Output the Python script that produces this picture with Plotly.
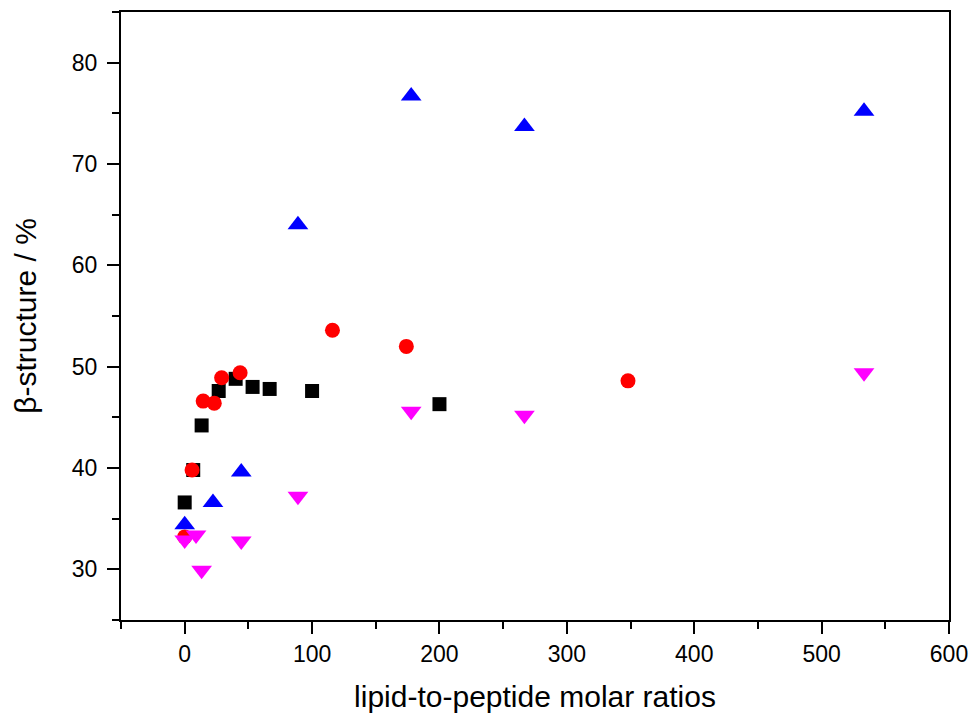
import plotly.graph_objects as go

# Lipid-to-peptide molar ratio (x) and beta-structure content in % (y)
sq_x = [0, 6.7, 13.3, 26.7, 40, 53.3, 66.7, 100, 200]
sq_y = [36.6, 39.8, 44.2, 47.6, 48.8, 48.0, 47.8, 47.6, 46.3]

ci_x = [0, 5.8, 14.5, 23.2, 29, 43.5, 116, 174, 348]
ci_y = [33.2, 39.8, 46.6, 46.4, 48.9, 49.4, 53.6, 52.0, 48.6]

up_x = [0, 22.2, 44.4, 88.9, 177.8, 266.7, 533.3]
up_y = [34.4, 36.6, 39.6, 64.0, 76.7, 73.7, 75.2]

dn_x = [0, 8.9, 13.3, 44.4, 88.9, 177.8, 266.7, 533.3]
dn_y = [32.9, 33.4, 29.9, 32.8, 37.2, 45.6, 45.2, 49.4]

fig = go.Figure()
fig.add_trace(go.Scatter(x=sq_x, y=sq_y, mode="markers",
                         marker=dict(symbol="square", size=14, color="black")))
fig.add_trace(go.Scatter(x=ci_x, y=ci_y, mode="markers",
                         marker=dict(symbol="circle", size=15, color="#FF0000")))
fig.add_trace(go.Scatter(x=up_x, y=up_y, mode="markers",
                         marker=dict(symbol="triangle-up", size=18, color="#0000FF")))
fig.add_trace(go.Scatter(x=dn_x, y=dn_y, mode="markers",
                         marker=dict(symbol="triangle-down", size=18, color="#FF00FF")))

FONT = "Liberation Sans, Arial, sans-serif"

axis_common = dict(
    showline=True, linecolor="black", linewidth=2, mirror=True,
    showgrid=False, zeroline=False,
    ticks="outside", ticklen=12, tickwidth=2, tickcolor="black",
    tickfont=dict(family=FONT, size=23, color="black"),
)

fig.update_layout(
    width=979, height=722,
    margin=dict(l=121, r=30, t=10, b=102),
    paper_bgcolor="white", plot_bgcolor="white",
    showlegend=False,
    font=dict(family=FONT, color="black"),
    xaxis=dict(
        range=[-50, 600], tick0=0, dtick=100,
        minor=dict(dtick=50, ticks="outside", ticklen=7, tickwidth=2, tickcolor="black"),
        title=dict(text="lipid-to-peptide molar ratios", font=dict(size=30), standoff=20),
        **axis_common,
    ),
    yaxis=dict(
        range=[25, 85], tick0=0, dtick=10,
        minor=dict(dtick=5, ticks="outside", ticklen=7, tickwidth=2, tickcolor="black"),
        title=dict(text="β-structure / %", font=dict(size=30), standoff=26),
        ticklabelstandoff=5,
        **axis_common,
    ),
)

fig.write_html("out.html")
